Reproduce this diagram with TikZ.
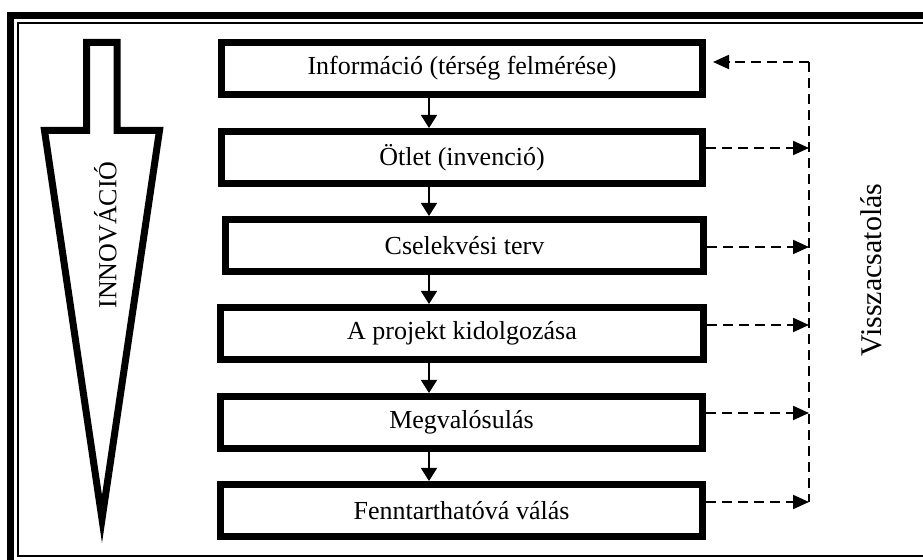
\documentclass[tikz,border=0pt]{standalone}
\usepackage{fontspec}
\setmainfont{Liberation Serif}
\usetikzlibrary{arrows.meta}
\begin{document}
\begin{tikzpicture}[x=0.5pt,y=-0.5pt,
  stepbox/.style={draw, line width=3.5pt, minimum height=26pt, inner sep=0pt, font=\fontsize{13}{15.5}\selectfont},
  flow/.style={line width=0.75pt, -{Triangle[length=6.5pt,width=8pt]}},
  fbline/.style={line width=1pt, dash pattern=on 5pt off 3pt},
  fbarrow/.style={fbline, -{Triangle[length=8pt,width=7pt]}},
  frame/.style={line width=3.5pt},
  thinframe/.style={line width=1pt}]
\useasboundingbox (0,0) rectangle (923,560);
\begin{scope}
  \clip (0,0) rectangle (923,560);
  \draw[frame] (10,15.5) rectangle (940,580);
  \draw[thinframe] (17.5,23) rectangle (940,556.5);
\end{scope}
% innovation arrow
\draw[line width=3.5pt] (86.5,42.5) -- (117,42.5) -- (117,130.5) -- (159.5,130.5) -- (102,519) -- (44.5,130.5) -- (86.5,130.5) -- cycle;
\node[rotate=90, font=\fontsize{13}{15.5}\selectfont, inner sep=0pt] (innov) at (105.5,235) {INNOVÁCIÓ};
% boxes
\node[stepbox, minimum width=240.5pt] (b1) at (462,68.5) {Információ (térség felmérése)};
\node[stepbox, minimum width=240.5pt] (b2) at (462,157.5) {Ötlet (invenció)};
\node[stepbox, minimum width=239pt] (b3) at (464.5,245.5) {Cselekvési terv};
\node[stepbox, minimum width=241.5pt] (b4) at (462,333.5) {A projekt kidolgozása};
\node[stepbox, minimum width=241pt] (b5) at (461.5,422.5) {Megvalósulás};
\node[stepbox, minimum width=241pt] (b6) at (461.5,510.5) {Fenntarthatóvá válás};
% flow arrows
\coordinate (ax) at (429,0);
\foreach \a/\b in {b1/b2,b2/b3,b3/b4,b4/b5,b5/b6}
  \draw[flow] (\a.south -| ax) -- (\b.north -| ax);
% feedback
\coordinate (ft) at (809,62);
\coordinate (fbm) at (809,502);
\draw[fbline] (ft) -- (fbm);
\coordinate (e1) at ([xshift=3.5pt]b1.east);
\draw[fbarrow] (ft) -- (e1 |- ft);
\coordinate (s2) at ([yshift=4.75pt]b2.east);
\coordinate (s3) at ([yshift=-0.75pt]b3.east);
\coordinate (s4) at ([yshift=4.25pt]b4.east);
\coordinate (s5) at ([yshift=4.75pt]b5.east);
\coordinate (s6) at ([yshift=4.25pt]b6.east);
\foreach \s in {s2,s3,s4,s5,s6}
  \draw[fbarrow] (\s) -- (\s -| ft);
\node[rotate=90, font=\fontsize{15}{18}\selectfont, inner sep=0pt] (vissza) at (871.5,270) {Visszacsatolás};
\end{tikzpicture}
\end{document}
